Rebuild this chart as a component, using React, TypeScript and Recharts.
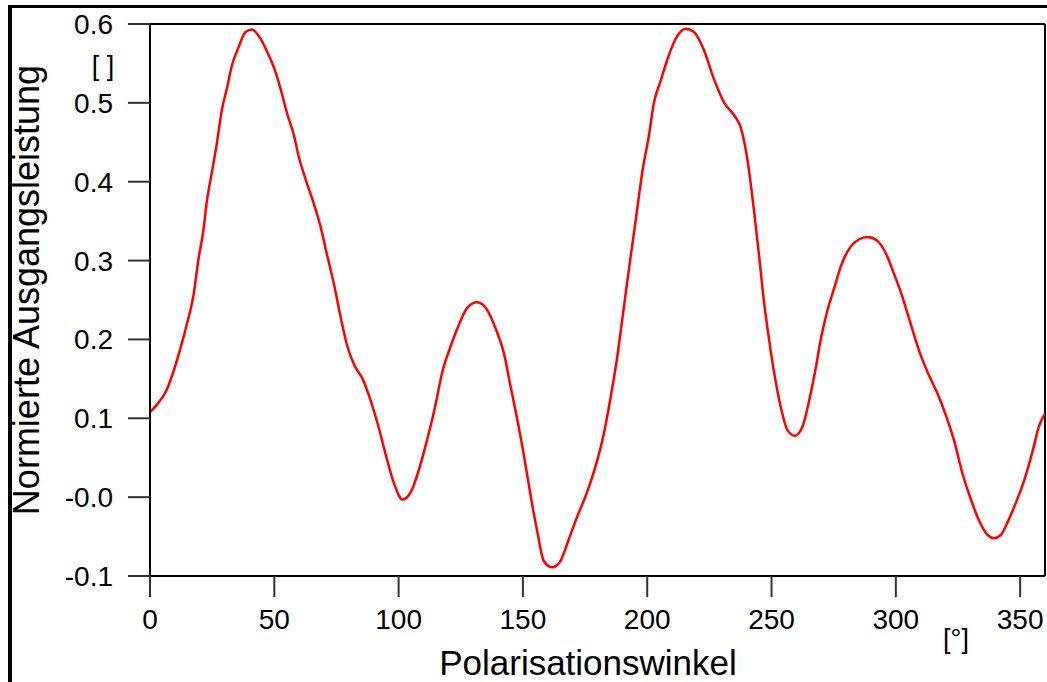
import { LineChart, Line, XAxis, YAxis, ReferenceLine } from 'recharts'

// Polarisationswinkel [°]
const angles = [
  0, 2.7, 6.7, 9.4, 12.1, 14.8, 17.5, 19.5, 21.5, 22.9, 24.9, 26.9, 28.9, 30.9, 33, 35.7, 38.4, 41, 43.7,
  47.8, 50.5, 52.5, 55.2, 57.9, 59.9, 62.6, 66, 68.6, 71.3, 74, 76.7, 79.4, 82.1, 85.5, 88.8, 91.5, 94.9,
  98.3, 101.6, 105, 107.7, 111, 114.5, 117.6, 120.9, 124.3, 127.6, 131.6, 135.7, 139, 142.4, 145, 147.7,
  150.4, 153.1, 155.8, 158.4, 161.8, 165.1, 168.5, 171.8, 175.9, 179.2, 182.6, 185.3, 187.9, 189.9, 192,
  194, 196, 198, 200.7, 202.7, 205.4, 208.1, 211.4, 215.5, 218.8, 222.8, 226.5, 231, 235, 237.7, 240.4,
  243, 245, 247, 249, 251, 253.8, 256.4, 259.4, 262.5, 265.1, 267.8, 269.8, 272.5, 275.2, 277.9, 281.9,
  285.3, 288.6, 292.6, 296, 299.3, 302, 304.7, 307.4, 310, 313.4, 316.8, 320.1, 323.5, 326.8, 330.1,
  333.5, 336.9, 339.5, 342.2, 344.9, 348.3, 351.6, 355, 357.6, 360,
]

// Normierte Ausgangsleistung []
const power = [
  0.108, 0.117, 0.136, 0.159, 0.187, 0.219, 0.256, 0.302, 0.339, 0.376, 0.412, 0.449, 0.491, 0.518, 0.548,
  0.571, 0.59, 0.593, 0.585, 0.56, 0.539, 0.518, 0.486, 0.459, 0.431, 0.403, 0.371, 0.343, 0.306, 0.27,
  0.228, 0.191, 0.168, 0.15, 0.122, 0.094, 0.053, 0.016, -0.003, 0.007, 0.03, 0.067, 0.112, 0.159, 0.191,
  0.219, 0.24, 0.247, 0.237, 0.214, 0.182, 0.141, 0.099, 0.053, 0.002, -0.044, -0.081, -0.089, -0.081,
  -0.053, -0.025, 0.007, 0.039, 0.081, 0.127, 0.177, 0.224, 0.274, 0.32, 0.366, 0.412, 0.459, 0.5, 0.528,
  0.555, 0.581, 0.594, 0.59, 0.567, 0.533, 0.5, 0.484, 0.468, 0.426, 0.362, 0.306, 0.247, 0.2, 0.159,
  0.113, 0.085, 0.078, 0.09, 0.122, 0.164, 0.2, 0.237, 0.265, 0.293, 0.318, 0.327, 0.33, 0.325, 0.309,
  0.283, 0.26, 0.233, 0.205, 0.18, 0.154, 0.131, 0.104, 0.071, 0.03, -0.002, -0.03, -0.048, -0.052,
  -0.048, -0.032, -0.007, 0.021, 0.058, 0.09, 0.106,
]

const xTicks = [0, 50, 100, 150, 200, 250, 300, 350]
const yTicks = [-0.1, 0, 0.1, 0.2, 0.3, 0.4, 0.5, 0.6]
const yTickLabels = ['-0.1', '-0.0', '0.1', '0.2', '0.3', '0.4', '0.5', '0.6']

const data = angles.map((a, i) => ({ angle: a, value: power[i] }))

const font = '"Liberation Sans", Arial, sans-serif'
const tickStyle = { fontSize: 28, fill: '#000', fontFamily: font }

export default function App() {
  return (
    <div style={{ position: 'absolute', left: 0, top: 0, width: 1047, height: 682, background: '#fff', overflow: 'hidden' }}>
      {/* outer frame */}
      <div style={{ position: 'absolute', left: 8, top: 5, width: 1060, height: 700, borderTop: '3px solid #000', borderLeft: '4px solid #000' }} />
      <LineChart width={1047} height={682} data={data} margin={{ top: 24, right: 2, bottom: 0, left: 0 }}>
        <XAxis
          dataKey="angle"
          type="number"
          domain={[0, 360]}
          ticks={xTicks}
          allowDataOverflow
          height={106}
          tickSize={21}
          tickMargin={12}
          tick={tickStyle}
          axisLine={{ stroke: '#000', strokeWidth: 2 }}
          tickLine={{ stroke: '#333', strokeWidth: 2 }}
        />
        <YAxis
          type="number"
          domain={[-0.1, 0.6]}
          ticks={yTicks}
          allowDataOverflow
          width={150}
          tickSize={22}
          tickMargin={15}
          tick={tickStyle}
          tickFormatter={(v: number) => yTickLabels[yTicks.indexOf(v)] ?? String(v)}
          axisLine={{ stroke: '#000', strokeWidth: 2 }}
          tickLine={{ stroke: '#333', strokeWidth: 2 }}
        />
        <ReferenceLine y={0.6} stroke="#000" strokeWidth={2} />
        <ReferenceLine x={360} stroke="#000" strokeWidth={2} />
        <Line
          dataKey="value"
          type="monotone"
          stroke="#ff0000"
          strokeWidth={2.5}
          dot={false}
          isAnimationActive={false}
        />
      </LineChart>
      <svg width={1047} height={682} style={{ position: 'absolute', left: 0, top: 0, pointerEvents: 'none' }}>
        <text x={588} y={675} textAnchor="middle" fontSize={35} fontFamily={font} fill="#000">
          Polarisationswinkel
        </text>
        <text x={39} y={290} textAnchor="middle" fontSize={36} fontFamily={font} fill="#000" transform="rotate(-90, 39, 290)">
          Normierte Ausgangsleistung
        </text>
        <text x={103} y={75} textAnchor="middle" fontSize={27} fontFamily={font} fill="#000">
          [ ]
        </text>
        <text x={956} y={648} textAnchor="middle" fontSize={27} fontFamily={font} fill="#000">
          [°]
        </text>
      </svg>
    </div>
  )
}
